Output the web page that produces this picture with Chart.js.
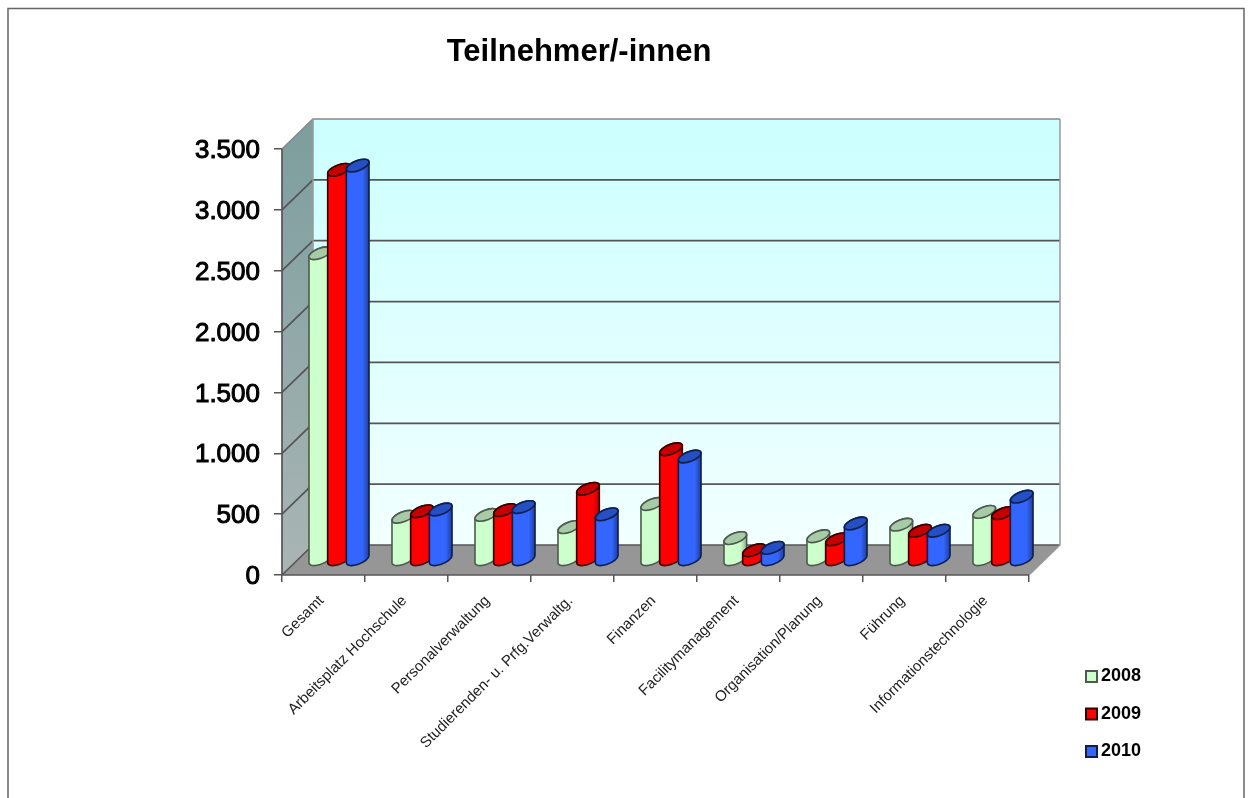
<!DOCTYPE html>
<html lang="de">
<head>
<meta charset="utf-8">
<title>Teilnehmer/-innen</title>
<script src="https://cdn.jsdelivr.net/npm/chart.js@4"></script>
<style>
  html, body { margin: 0; padding: 0; background: #fff; overflow: hidden; }
  canvas { display: block; filter: blur(0.4px); }
</style>
</head>
<body>
<canvas id="chart" width="1251" height="798"></canvas>
<script>
const categories = [
  "Gesamt", "Arbeitsplatz Hochschule", "Personalverwaltung",
  "Studierenden- u. Prfg.Verwaltg.", "Finanzen", "Facilitymanagement",
  "Organisation/Planung", "Führung", "Informationstechnologie"
]
const values2008 = [2520, 355, 370, 270, 460, 180, 195, 290, 395]
const values2009 = [3205, 400, 410, 585, 910, 80, 170, 240, 385]
const values2010 = [3240, 415, 435, 375, 850, 100, 300, 240, 520]
const yTickLabels = { 0: "0", 500: "500", 1000: "1.000", 1500: "1.500", 2000: "2.000", 2500: "2.500", 3000: "3.000", 3500: "3.500" }

// how far the back wall sits behind the axes, and the slant of the cylinder caps
const DEPTH_X = 31
const DEPTH_Y = 30
const CAP_SLANT = 0.68

const seriesStyle = [
  { body: "#ccffcc", edge: "#8fb38f", cap: "#a6cba6", line: "#4d5a4d" },
  { body: "#ff0000", edge: "#b30000", cap: "#c40000", line: "#3a0000" },
  { body: "#3366ff", edge: "#1f3d99", cap: "#2450c4", line: "#0f1f4d" }
]

function drawWalls(chart) {
  const { ctx, chartArea: area, scales: { y } } = chart
  const { left, right, top, bottom } = area
  ctx.save()

  // page frame, open at the bottom
  ctx.strokeStyle = "#666"
  ctx.lineWidth = 1.5
  ctx.beginPath()
  ctx.moveTo(8, 798)
  ctx.lineTo(8, 8.5)
  ctx.lineTo(1244, 8.5)
  ctx.lineTo(1244, 798)
  ctx.stroke()

  const backWall = ctx.createLinearGradient(0, top - DEPTH_Y, 0, bottom - DEPTH_Y)
  backWall.addColorStop(0, "#ccffff")
  backWall.addColorStop(1, "#f2ffff")
  ctx.fillStyle = backWall
  ctx.fillRect(left + DEPTH_X, top - DEPTH_Y, right - left, bottom - top)

  const sideWall = ctx.createLinearGradient(0, top, 0, bottom)
  sideWall.addColorStop(0, "#7f9f9f")
  sideWall.addColorStop(1, "#aab5b5")
  ctx.fillStyle = sideWall
  ctx.beginPath()
  ctx.moveTo(left, top)
  ctx.lineTo(left + DEPTH_X, top - DEPTH_Y)
  ctx.lineTo(left + DEPTH_X, bottom - DEPTH_Y)
  ctx.lineTo(left, bottom)
  ctx.closePath()
  ctx.fill()

  ctx.fillStyle = "#969696"
  ctx.beginPath()
  ctx.moveTo(left, bottom)
  ctx.lineTo(left + DEPTH_X, bottom - DEPTH_Y)
  ctx.lineTo(right + DEPTH_X, bottom - DEPTH_Y)
  ctx.lineTo(right, bottom)
  ctx.closePath()
  ctx.fill()

  // grid lines run along the side wall and across the back wall
  y.ticks.forEach(tick => {
    const py = y.getPixelForValue(tick.value)
    ctx.strokeStyle = tick.value === y.max ? "#888" : "#555"
    ctx.lineWidth = 1.7
    ctx.beginPath()
    ctx.moveTo(left, py)
    ctx.lineTo(left + DEPTH_X, py - DEPTH_Y)
    ctx.lineTo(right + DEPTH_X, py - DEPTH_Y)
    ctx.stroke()
  })

  ctx.strokeStyle = "#999"
  ctx.lineWidth = 1.5
  ctx.beginPath()
  ctx.moveTo(left + DEPTH_X, top - DEPTH_Y)
  ctx.lineTo(left + DEPTH_X, bottom - DEPTH_Y)
  ctx.moveTo(right + DEPTH_X, top - DEPTH_Y)
  ctx.lineTo(right + DEPTH_X, bottom - DEPTH_Y)
  ctx.lineTo(right, bottom)
  ctx.stroke()

  ctx.strokeStyle = "#555"
  ctx.lineWidth = 1.7
  ctx.beginPath()
  ctx.moveTo(left, top)
  ctx.lineTo(left, bottom)
  ctx.lineTo(right, bottom)
  ctx.stroke()
  ctx.restore()
}

function capPath(ctx, cx, cy, r, start, end) {
  ctx.save()
  ctx.transform(1, 0, CAP_SLANT, -CAP_SLANT, cx, cy)
  ctx.arc(0, 0, r, start, end)
  ctx.restore()
}

function drawCylinder(ctx, bar, style) {
  const r = bar.width / 2
  const cx = bar.x + DEPTH_X / 2
  const topY = bar.y - DEPTH_Y / 2
  const baseY = bar.base - DEPTH_Y / 2
  const halfW = r * Math.sqrt(1 + CAP_SLANT * CAP_SLANT)
  // angle on the cap circle where its outline is widest on screen
  const sideAngle = Math.atan2(CAP_SLANT, 1)

  ctx.save()
  ctx.lineWidth = 1.6
  ctx.strokeStyle = style.line

  const body = ctx.createLinearGradient(cx - halfW, 0, cx + halfW, 0)
  body.addColorStop(0, style.body)
  body.addColorStop(0.72, style.body)
  body.addColorStop(1, style.edge)
  ctx.fillStyle = body
  ctx.beginPath()
  capPath(ctx, cx, baseY, r, sideAngle + Math.PI, sideAngle + 2 * Math.PI)
  capPath(ctx, cx, topY, r, sideAngle, sideAngle - Math.PI, true)
  ctx.closePath()
  ctx.fill()
  ctx.stroke()

  ctx.fillStyle = style.cap
  ctx.beginPath()
  capPath(ctx, cx, topY, r, 0, 2 * Math.PI)
  ctx.closePath()
  ctx.fill()
  ctx.stroke()
  ctx.restore()
}

const cylinderPlugin = {
  id: "cylinders",
  afterLayout(chart) {
    // title and legend sit outside the plot's own columns in the original
    chart.titleBlock.left = 0
    chart.titleBlock.right = 1158
    const legend = chart.legend
    legend.left = 1071.5
    legend.right = 1200
    legend.top = 648
    legend.bottom = 790
  },
  beforeDatasetsDraw(chart) {
    drawWalls(chart)
  },
  beforeDatasetDraw() {
    return false
  },
  afterDatasetsDraw(chart) {
    categories.forEach((_, i) => {
      chart.data.datasets.forEach((_, d) => {
        drawCylinder(chart.ctx, chart.getDatasetMeta(d).data[i], seriesStyle[d])
      })
    })
  }
}

new Chart(document.getElementById("chart"), {
  type: "bar",
  data: {
    labels: categories,
    datasets: [
      { label: "2008", data: values2008, backgroundColor: seriesStyle[0].body, borderColor: seriesStyle[0].line, borderWidth: 2 },
      { label: "2009", data: values2009, backgroundColor: seriesStyle[1].body, borderColor: seriesStyle[1].line, borderWidth: 2 },
      { label: "2010", data: values2010, backgroundColor: seriesStyle[2].body, borderColor: seriesStyle[2].line, borderWidth: 2 }
    ]
  },
  plugins: [cylinderPlugin],
  options: {
    animation: false,
    responsive: false,
    categoryPercentage: 0.676,
    barPercentage: 1,
    layout: { padding: { right: 222 } },
    font: { family: "'Liberation Sans', Arial, sans-serif" },
    plugins: {
      tooltip: { enabled: false },
      title: {
        display: true,
        text: "Teilnehmer/-innen",
        color: "#000",
        font: { family: "'Liberation Sans', Arial, sans-serif", size: 31, weight: "bold" },
        padding: { top: 33.4, bottom: 78.4 }
      },
      legend: {
        position: "chartArea",
        align: "start",
        labels: {
          usePointStyle: true,
          pointStyle: "rect",
          boxWidth: 1,
          boxHeight: 11,
          padding: 19.5,
          color: "#000",
          font: { family: "'Liberation Sans', Arial, sans-serif", size: 18, weight: "bold" }
        }
      }
    },
    scales: {
      x: {
        afterFit: scale => { scale.height = 223 },
        grid: { drawOnChartArea: false, tickLength: 7, tickColor: "#555", lineWidth: 1.5 },
        border: { display: false },
        ticks: {
          autoSkip: false,
          minRotation: 45,
          maxRotation: 45,
          padding: 10,
          labelOffset: -2,
          color: "#222",
          font: { family: "'Liberation Sans', Arial, sans-serif", size: 15 }
        }
      },
      y: {
        min: 0,
        max: 3500,
        afterFit: scale => { scale.width = 282 },
        grid: { drawOnChartArea: false, tickLength: 8, tickColor: "#555", lineWidth: 1.5 },
        border: { display: false },
        ticks: {
          stepSize: 500,
          padding: 14,
          labelOffset: 2,
          color: "#000",
          textStrokeColor: "#000",
          textStrokeWidth: 1,
          font: { family: "'Liberation Sans', Arial, sans-serif", size: 26 },
          callback: v => yTickLabels[v]
        }
      }
    }
  }
})
</script>
</body>
</html>
